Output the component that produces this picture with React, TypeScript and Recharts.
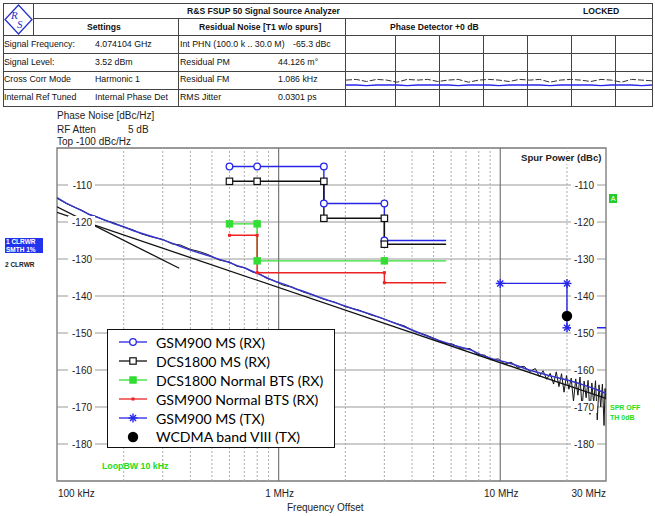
import React from 'react';
import { ComposedChart, LineChart, Line, XAxis, YAxis, CartesianGrid, ReferenceLine, ReferenceArea, Legend } from 'recharts';

// trace 1 (smoothed, blue) - offset in MHz, level in dBc/Hz
const trace1Freq = [0.1, 0.11, 0.121, 0.13, 0.139, 0.15, 0.165, 0.18, 0.2, 0.22, 0.242, 0.27, 0.303, 0.33, 0.354, 0.4, 0.44, 0.484, 0.54, 0.596, 0.65, 0.709, 0.76, 0.815, 0.88, 0.968, 1.08, 1.2, 1.3, 1.5, 1.84, 2.2, 2.6, 3.1, 3.69, 4.4, 5.2, 6.2, 7.4, 8.2, 9.3, 10.5, 11.6, 13.5, 16.4, 18, 20, 22, 25, 27.5, 30];
const trace1Level = [-113.4, -114.9, -116.1, -117.0, -117.9, -118.6, -119.5, -120.4, -121.3, -122.3, -123.1, -124.0, -124.9, -125.7, -126.4, -127.6, -128.4, -129.1, -130.1, -130.9, -131.8, -132.5, -133.3, -134.1, -135.0, -136.1, -137.0, -138.1, -138.8, -140.2, -142.0, -143.6, -144.9, -146.6, -148.3, -150.2, -151.9, -153.4, -154.6, -155.9, -157.1, -157.8, -158.6, -160.0, -161.4, -162.0, -162.7, -163.4, -164.5, -165.4, -166.3];

// trace 2 (clear/write, black)
const trace2Freq = [0.1, 0.11, 0.12, 0.13, 0.14, 0.15, 0.165, 0.18, 0.2, 0.22, 0.24, 0.27, 0.3, 0.33, 0.36, 0.4, 0.44, 0.48, 0.54, 0.6, 0.65, 0.7, 0.76, 0.82, 0.88, 0.95, 1.05, 1.15, 1.3, 1.45, 1.6, 1.8, 2.0, 2.3, 2.6, 2.9, 3.3, 3.7, 4.1, 4.6, 5.1, 5.6, 6.1, 6.7, 7.3, 7.9, 8.5, 9.1, 9.8, 10.5, 11.2, 12.0, 12.8, 13.6, 14.4, 15.0, 15.6, 16.2, 16.8, 17.4, 17.9, 18.4, 18.9, 19.4, 19.9, 20.4, 20.9, 21.4, 21.9, 22.4, 22.9, 23.4, 23.9, 24.4, 24.9, 25.4, 25.9, 26.4, 26.9, 27.4, 27.9, 28.4, 28.9, 29.4, 29.7, 30.0];
const trace2Level = [-113.6, -115.0, -116.0, -116.9, -118.0, -118.5, -119.6, -120.2, -121.4, -122.1, -123.2, -124.1, -124.7, -125.9, -126.2, -127.4, -128.0, -128.8, -130.3, -130.8, -132.0, -132.3, -133.5, -134.0, -135.2, -135.8, -137.1, -137.6, -139.0, -139.8, -140.9, -141.7, -142.9, -143.8, -145.1, -145.9, -147.2, -148.1, -149.6, -150.5, -151.6, -152.8, -153.0, -154.3, -154.2, -155.8, -156.0, -157.2, -157.0, -158.4, -157.9, -159.3, -159.0, -160.4, -159.6, -161.8, -160.2, -162.5, -160.9, -163.8, -160.5, -164.5, -161.0, -166.0, -161.5, -165.2, -162.2, -168.5, -162.4, -166.8, -161.9, -170.5, -163.0, -167.5, -162.8, -172.0, -163.5, -169.0, -162.9, -173.5, -164.0, -170.0, -163.8, -175.0, -165.0, -168.0];

// straight slope lines
const slope1Freq = [0.1, 0.356];
const slope1Level = [-115.9, -132.5];
const slope2Freq = [0.1, 30];
const slope2Level = [-117.4, -167.7];

// spur masks (MHz, dBc); mark = draw a marker on that point
const gsmMsRxFreq = [0.6, 0.8, 1.6, 1.6, 3, 3, 5.7];
const gsmMsRxLevel = [-105, -105, -105, -115, -115, -125, -125];
const gsmMsRxMark = [1, 1, 1, 1, 1, 1, 0];
const dcsMsRxFreq = [0.6, 0.8, 1.6, 1.6, 3, 3, 5.7];
const dcsMsRxLevel = [-109, -109, -109, -119, -119, -126, -126];
const dcsMsRxMark = [1, 1, 1, 1, 1, 1, 0];
const dcsBtsFreq = [0.6, 0.8, 0.8, 3, 5.7];
const dcsBtsLevel = [-120.5, -120.5, -130.5, -130.5, -130.5];
const dcsBtsMark = [1, 1, 1, 1, 0];
const gsmBtsFreq = [0.6, 0.8, 0.8, 3, 3, 5.7];
const gsmBtsLevel = [-123.6, -123.6, -133.7, -133.7, -136.4, -136.4];
const gsmBtsMark = [1, 1, 1, 1, 1, 0];
const gsmMsTxFreq = [10, 20, 20, 30];
const gsmMsTxLevel = [-136.6, -136.6, -148.6, -148.6];
const gsmMsTxMark = [1, 1, 1, 0];
const wcdmaFreq = [20];
const wcdmaLevel = [-145.4];

const xTicks = [0.1, 1, 10, 30];
const xTickLabels = ['100 kHz', '1 MHz', '10 MHz', '30 MHz'];
const yTicks = [-110, -120, -130, -140, -150, -160, -170, -180];
const minorFreq = [0.2, 0.3, 0.4, 0.5, 0.6, 0.7, 0.8, 0.9, 2, 3, 4, 5, 6, 7, 8, 9, 20];
const majorFreq = [1, 10];

// phase detector mini view
const pdX = [0, 1, 2, 3, 4, 5, 6, 7, 8, 9, 10, 11, 12, 13, 14, 15, 16, 17, 18, 19, 20, 21, 22, 23, 24, 25, 26, 27, 28, 29, 30];
const pdBlack = [3.7, 3.8, 3.5, 3.8, 3.7, 3.4, 3.8, 3.7, 3.8, 3.5, 3.7, 3.8, 3.4, 3.7, 3.8, 3.7, 3.5, 3.8, 3.7, 3.8, 3.4, 3.7, 3.8, 3.7, 3.5, 3.8, 3.7, 3.4, 3.8, 3.7, 3.6];
const pdBlue = [3.0, 3.0, 2.9, 3.0, 3.0, 3.0, 2.9, 3.0, 3.0, 3.0, 3.0, 2.9, 3.0, 3.0, 3.0, 2.9, 3.0, 3.0, 3.0, 3.0, 2.9, 3.0, 3.0, 3.0, 3.0, 2.9, 3.0, 3.0, 3.0, 2.9, 3.0];

const toRows = (fs: number[], vs: number[], marks?: number[]) =>
  fs.map((f, i) => ({ f: f * 1e6, v: vs[i], m: marks ? marks[i] : 1 }));

const trace1 = toRows(trace1Freq, trace1Level);
const trace2 = toRows(trace2Freq, trace2Level);
const slope1 = toRows(slope1Freq, slope1Level);
const slope2 = toRows(slope2Freq, slope2Level);
const pdData = pdX.map((x, i) => ({ x, k: pdBlack[i], b: pdBlue[i] }));

const BLUE = '#2626e8';
const GREEN = '#33dd33';
const RED = '#ee2222';

type Shape = 'circle' | 'square' | 'fsquare' | 'tick' | 'star' | 'dot';

const Marker = ({ cx, cy, shape, color }: { cx: number; cy: number; shape: Shape; color: string }) => {
  if (shape === 'circle') return <circle cx={cx} cy={cy} r={3.3} fill="white" stroke={color} strokeWidth={1.3} />;
  if (shape === 'square') return <rect x={cx - 3.2} y={cy - 3.2} width={6.4} height={6.4} fill="white" stroke={color} strokeWidth={1.2} />;
  if (shape === 'fsquare') return <rect x={cx - 3.2} y={cy - 3.2} width={6.4} height={6.4} fill={color} stroke={color} />;
  if (shape === 'tick') return <rect x={cx - 1.5} y={cy - 1.5} width={3} height={3} fill={color} />;
  if (shape === 'dot') return <circle cx={cx} cy={cy} r={5.2} fill="#000" />;
  return (
    <g stroke={color} strokeWidth={1.4}>
      <line x1={cx - 4.5} y1={cy} x2={cx + 4.5} y2={cy} />
      <line x1={cx} y1={cy - 4.5} x2={cx} y2={cy + 4.5} />
      <line x1={cx - 3} y1={cy - 3} x2={cx + 3} y2={cy + 3} />
      <line x1={cx - 3} y1={cy + 3} x2={cx + 3} y2={cy - 3} />
    </g>
  );
};

const masks = [
  { name: 'GSM900 MS (RX)', color: BLUE, shape: 'circle' as Shape, data: toRows(gsmMsRxFreq, gsmMsRxLevel, gsmMsRxMark), line: true },
  { name: 'DCS1800 MS (RX)', color: '#111', shape: 'square' as Shape, data: toRows(dcsMsRxFreq, dcsMsRxLevel, dcsMsRxMark), line: true },
  { name: 'DCS1800 Normal BTS (RX)', color: GREEN, shape: 'fsquare' as Shape, data: toRows(dcsBtsFreq, dcsBtsLevel, dcsBtsMark), line: true },
  { name: 'GSM900 Normal BTS (RX)', color: RED, shape: 'tick' as Shape, data: toRows(gsmBtsFreq, gsmBtsLevel, gsmBtsMark), line: true },
  { name: 'GSM900 MS (TX)', color: BLUE, shape: 'star' as Shape, data: toRows(gsmMsTxFreq, gsmMsTxLevel, gsmMsTxMark), line: true },
  { name: 'WCDMA band VIII (TX)', color: '#000', shape: 'dot' as Shape, data: toRows(wcdmaFreq, wcdmaLevel), line: false },
];

const XTick = ({ x, payload }: any) => {
  const i = xTicks.indexOf(payload.value / 1e6);
  const anchor = i === 0 ? 'start' : i === xTicks.length - 1 ? 'end' : 'middle';
  const dx = i === 0 ? 1 : i === xTicks.length - 1 ? 0 : 1;
  return (
    <text x={x + dx} y={497} textAnchor={anchor} fontSize={10} fill="#222">
      {xTickLabels[i]}
    </text>
  );
};

const LeftTick = ({ y, payload }: any) => (
  <g>
    <rect x={68} y={y - 6} width={27} height={12} fill="white" />
    <text x={92} y={y + 3.5} textAnchor="end" fontSize={10} fill="#222">{payload.value}</text>
  </g>
);

const RightTick = ({ y, payload }: any) => (
  <g>
    <rect x={571} y={y - 6} width={26} height={12} fill="white" />
    <text x={594} y={y + 3.5} textAnchor="end" fontSize={10} fill="#222">{payload.value}</text>
  </g>
);

const LegendBox = () => (
  <div style={{ width: 228, height: 119, boxSizing: 'border-box', border: '1.5px solid #111', background: 'white', paddingTop: 3 }}>
    {masks.map((s) => (
      <div key={s.name} style={{ display: 'flex', alignItems: 'center', height: 18.9 }}>
        <svg width={38} height={14} style={{ marginLeft: 10, flex: 'none' }}>
          {s.line && <line x1={1} y1={7} x2={29} y2={7} stroke={s.color} strokeWidth={1.3} />}
          <Marker cx={15} cy={7} shape={s.shape} color={s.color} />
        </svg>
        <span style={{ fontFamily: 'Lato', fontSize: 14.1, color: '#000', whiteSpace: 'nowrap' }}>{s.name}</span>
      </div>
    ))}
  </div>
);

const abs = (left: number, top: number, extra: React.CSSProperties = {}): React.CSSProperties => ({
  position: 'absolute', left, top, whiteSpace: 'nowrap', lineHeight: '12px', ...extra,
});

const hLines = [
  { x1: 3, x2: 652, y: 3 }, { x1: 33, x2: 652, y: 18 }, { x1: 3, x2: 652, y: 35 },
  { x1: 3, x2: 652, y: 53 }, { x1: 3, x2: 652, y: 71 }, { x1: 3, x2: 652, y: 89 }, { x1: 3, x2: 652, y: 106 },
];
const vLines = [
  { x: 3, y1: 3, y2: 106 }, { x: 33, y1: 3, y2: 35 }, { x: 652, y1: 3, y2: 106 },
  { x: 178, y1: 18, y2: 106 }, { x: 345, y1: 18, y2: 106 },
  { x: 395, y1: 35, y2: 106 }, { x: 439, y1: 35, y2: 106 }, { x: 483, y1: 35, y2: 106 },
  { x: 527, y1: 35, y2: 106 }, { x: 571, y1: 35, y2: 106 }, { x: 615, y1: 35, y2: 106 },
];

const Header = () => {
  const t = { fontFamily: 'Liberation Sans', fontSize: 8.8, color: '#111' };
  const b = { fontFamily: 'Liberation Sans', fontSize: 8.6, fontWeight: 700, color: '#111' };
  return (
    <>
      {hLines.map((l, i) => (
        <div key={'h' + i} style={{ position: 'absolute', left: l.x1, top: l.y, width: l.x2 - l.x1 + 1, height: 1, background: '#444' }} />
      ))}
      {vLines.map((l, i) => (
        <div key={'v' + i} style={{ position: 'absolute', left: l.x, top: l.y1, width: 1, height: l.y2 - l.y1, background: '#444' }} />
      ))}
      <svg style={{ position: 'absolute', left: 4, top: 4 }} width={29} height={31}>
        <polygon points="14.5,1 28,15.5 14.5,30 1,15.5" fill="white" stroke="#2233cc" strokeWidth={1.3} />
        <text x={7} y={15} fontSize={11} fontStyle="italic" fill="#2233cc" fontFamily="Liberation Serif">R</text>
        <text x={13} y={24} fontSize={11} fontStyle="italic" fill="#2233cc" fontFamily="Liberation Serif">S</text>
      </svg>
      <div style={abs(187, 4.5, b)}>R&amp;S FSUP 50 Signal Source Analyzer</div>
      <div style={abs(583, 4.5, b)}>LOCKED</div>
      <div style={abs(87, 20.5, b)}>Settings</div>
      <div style={abs(199, 20.5, b)}>Residual Noise [T1 w/o spurs]</div>
      <div style={abs(390, 20.5, b)}>Phase Detector +0 dB</div>

      <div style={abs(4, 38, t)}>Signal Frequency:</div>
      <div style={abs(95, 38, t)}>4.074104 GHz</div>
      <div style={abs(180, 38, t)}>Int PHN (100.0 k .. 30.0 M)</div>
      <div style={abs(293, 38, t)}>-65.3 dBc</div>

      <div style={abs(4, 56, t)}>Signal Level:</div>
      <div style={abs(95, 56, t)}>3.52 dBm</div>
      <div style={abs(180, 56, t)}>Residual PM</div>
      <div style={abs(278, 56, t)}>44.126 m°</div>

      <div style={abs(4, 73, t)}>Cross Corr Mode</div>
      <div style={abs(95, 73, t)}>Harmonic 1</div>
      <div style={abs(180, 73, t)}>Residual FM</div>
      <div style={abs(278, 73, t)}>1.086 kHz</div>

      <div style={abs(4, 91, t)}>Internal Ref Tuned</div>
      <div style={abs(95, 91, t)}>Internal Phase Det</div>
      <div style={abs(180, 91, t)}>RMS Jitter</div>
      <div style={abs(278, 91, t)}>0.0301 ps</div>

      <div style={{ position: 'absolute', left: 346, top: 36 }}>
        <LineChart width={306} height={70} data={pdData} margin={{ top: 0, right: 0, bottom: 0, left: 0 }}>
          <XAxis dataKey="x" type="number" domain={[0, 30]} hide />
          <YAxis domain={[0, 10]} hide />
          <Line dataKey="k" stroke="#333" strokeWidth={1} strokeDasharray="6 2" dot={false} isAnimationActive={false} />
          <Line dataKey="b" stroke={BLUE} strokeWidth={1.3} dot={false} isAnimationActive={false} />
        </LineChart>
      </div>
    </>
  );
};

const markDot = (shape: Shape, color: string) => (props: any) => {
  const { cx, cy, payload, index } = props;
  if (!payload || !payload.m || cx == null) return <g key={index} />;
  return <g key={index}><Marker cx={cx} cy={cy} shape={shape} color={color} /></g>;
};

export default function App() {
  const small = { fontFamily: 'Liberation Sans', fontSize: 10, color: '#222' };
  return (
    <div style={{ position: 'absolute', left: 0, top: 0, width: 655, height: 516, background: 'white', fontFamily: 'Liberation Sans', overflow: 'hidden' }}>
      <div style={{ position: 'absolute', left: 0, top: 0 }}>
        <ComposedChart width={655} height={516} margin={{ top: 148, right: 49, bottom: 15, left: 57 }}>
          <CartesianGrid vertical={false} stroke="#999" strokeWidth={1.2} />
          {minorFreq.map((f) => (
            <ReferenceLine key={'mn' + f} x={f * 1e6} stroke="#aaa" strokeDasharray="2 2" strokeWidth={1} />
          ))}
          {majorFreq.map((f) => (
            <ReferenceLine key={'mj' + f} x={f * 1e6} stroke="#777" strokeWidth={1.2} />
          ))}
          <XAxis dataKey="f" type="number" scale="log" domain={[1e5, 3e7]} allowDataOverflow ticks={xTicks.map((t) => t * 1e6)}
            height={20} axisLine={false} tickLine={false} tick={<XTick />} interval={0} />
          <YAxis type="number" domain={[-190, -100]} allowDataOverflow ticks={yTicks} mirror axisLine={false} tickLine={false}
            tick={<LeftTick />} interval={0} />
          <YAxis yAxisId="r" orientation="right" type="number" domain={[-190, -100]} allowDataOverflow ticks={yTicks} mirror
            axisLine={false} tickLine={false} tick={<RightTick />} interval={0} />
          <ReferenceArea x1={1e5} x2={3e7} y1={-190} y2={-100} fill="none" stroke="#888" strokeWidth={1.5} />

          <Line data={trace2} dataKey="v" stroke="#151515" strokeWidth={1} dot={false} isAnimationActive={false} legendType="none" />
          <Line data={trace1} dataKey="v" stroke="#3535cc" strokeWidth={1.5} dot={false} isAnimationActive={false} legendType="none" />
          <Line data={slope1} dataKey="v" stroke="#111" strokeWidth={1.3} dot={false} isAnimationActive={false} legendType="none" />
          <Line data={slope2} dataKey="v" stroke="#111" strokeWidth={1.3} dot={false} isAnimationActive={false} legendType="none" />

          {masks.map((s) => (
            <Line key={s.name} name={s.name} data={s.data} dataKey="v" stroke={s.line ? s.color : 'none'} strokeWidth={1.4}
              dot={markDot(s.shape, s.color)} activeDot={false} isAnimationActive={false} />
          ))}

          <Legend layout="vertical" align="center" verticalAlign="middle" content={<LegendBox />}
            wrapperStyle={{ left: 107, top: 329, width: 228, height: 119 }} />
        </ComposedChart>
      </div>

      <Header />

      <div style={abs(57, 110, small)}>Phase Noise [dBc/Hz]</div>
      <div style={abs(57, 123.5, small)}>RF Atten</div>
      <div style={abs(128, 123.5, small)}>5 dB</div>
      <div style={abs(57, 136, small)}>Top -100 dBc/Hz</div>
      <div style={abs(287, 502, small)}>Frequency Offset</div>

      <div style={abs(521, 152, { fontFamily: 'Liberation Sans', fontSize: 9.6, fontWeight: 700, color: '#222', background: 'white' })}>Spur Power (dBc)</div>
      <div style={abs(102, 460, { fontFamily: 'Liberation Sans', fontSize: 8.8, fontWeight: 700, color: '#22dd22' })}>LoopBW 10 kHz</div>

      <div style={{ position: 'absolute', left: 609, top: 194, width: 8, height: 9, background: '#22cc22', color: 'white', fontSize: 7, lineHeight: '9px', textAlign: 'center', fontFamily: 'Liberation Sans' }}>A</div>
      <div style={abs(610, 403, { fontFamily: 'Liberation Sans', fontSize: 7, fontWeight: 700, color: '#22dd22', lineHeight: '10px' })}>SPR OFF<br />TH 0dB</div>

      <div style={{ position: 'absolute', left: 5, top: 238, width: 38, height: 15, background: '#2233ee', color: 'white', fontFamily: 'Liberation Sans', fontSize: 6.5, fontWeight: 700, lineHeight: '7.5px', paddingLeft: 1, boxSizing: 'border-box' }}>
        1 CLRWR<br />SMTH 1%
      </div>
      <div style={abs(5, 259, { fontFamily: 'Liberation Sans', fontSize: 6.5, fontWeight: 700, color: '#222' })}>2 CLRWR</div>
    </div>
  );
}
